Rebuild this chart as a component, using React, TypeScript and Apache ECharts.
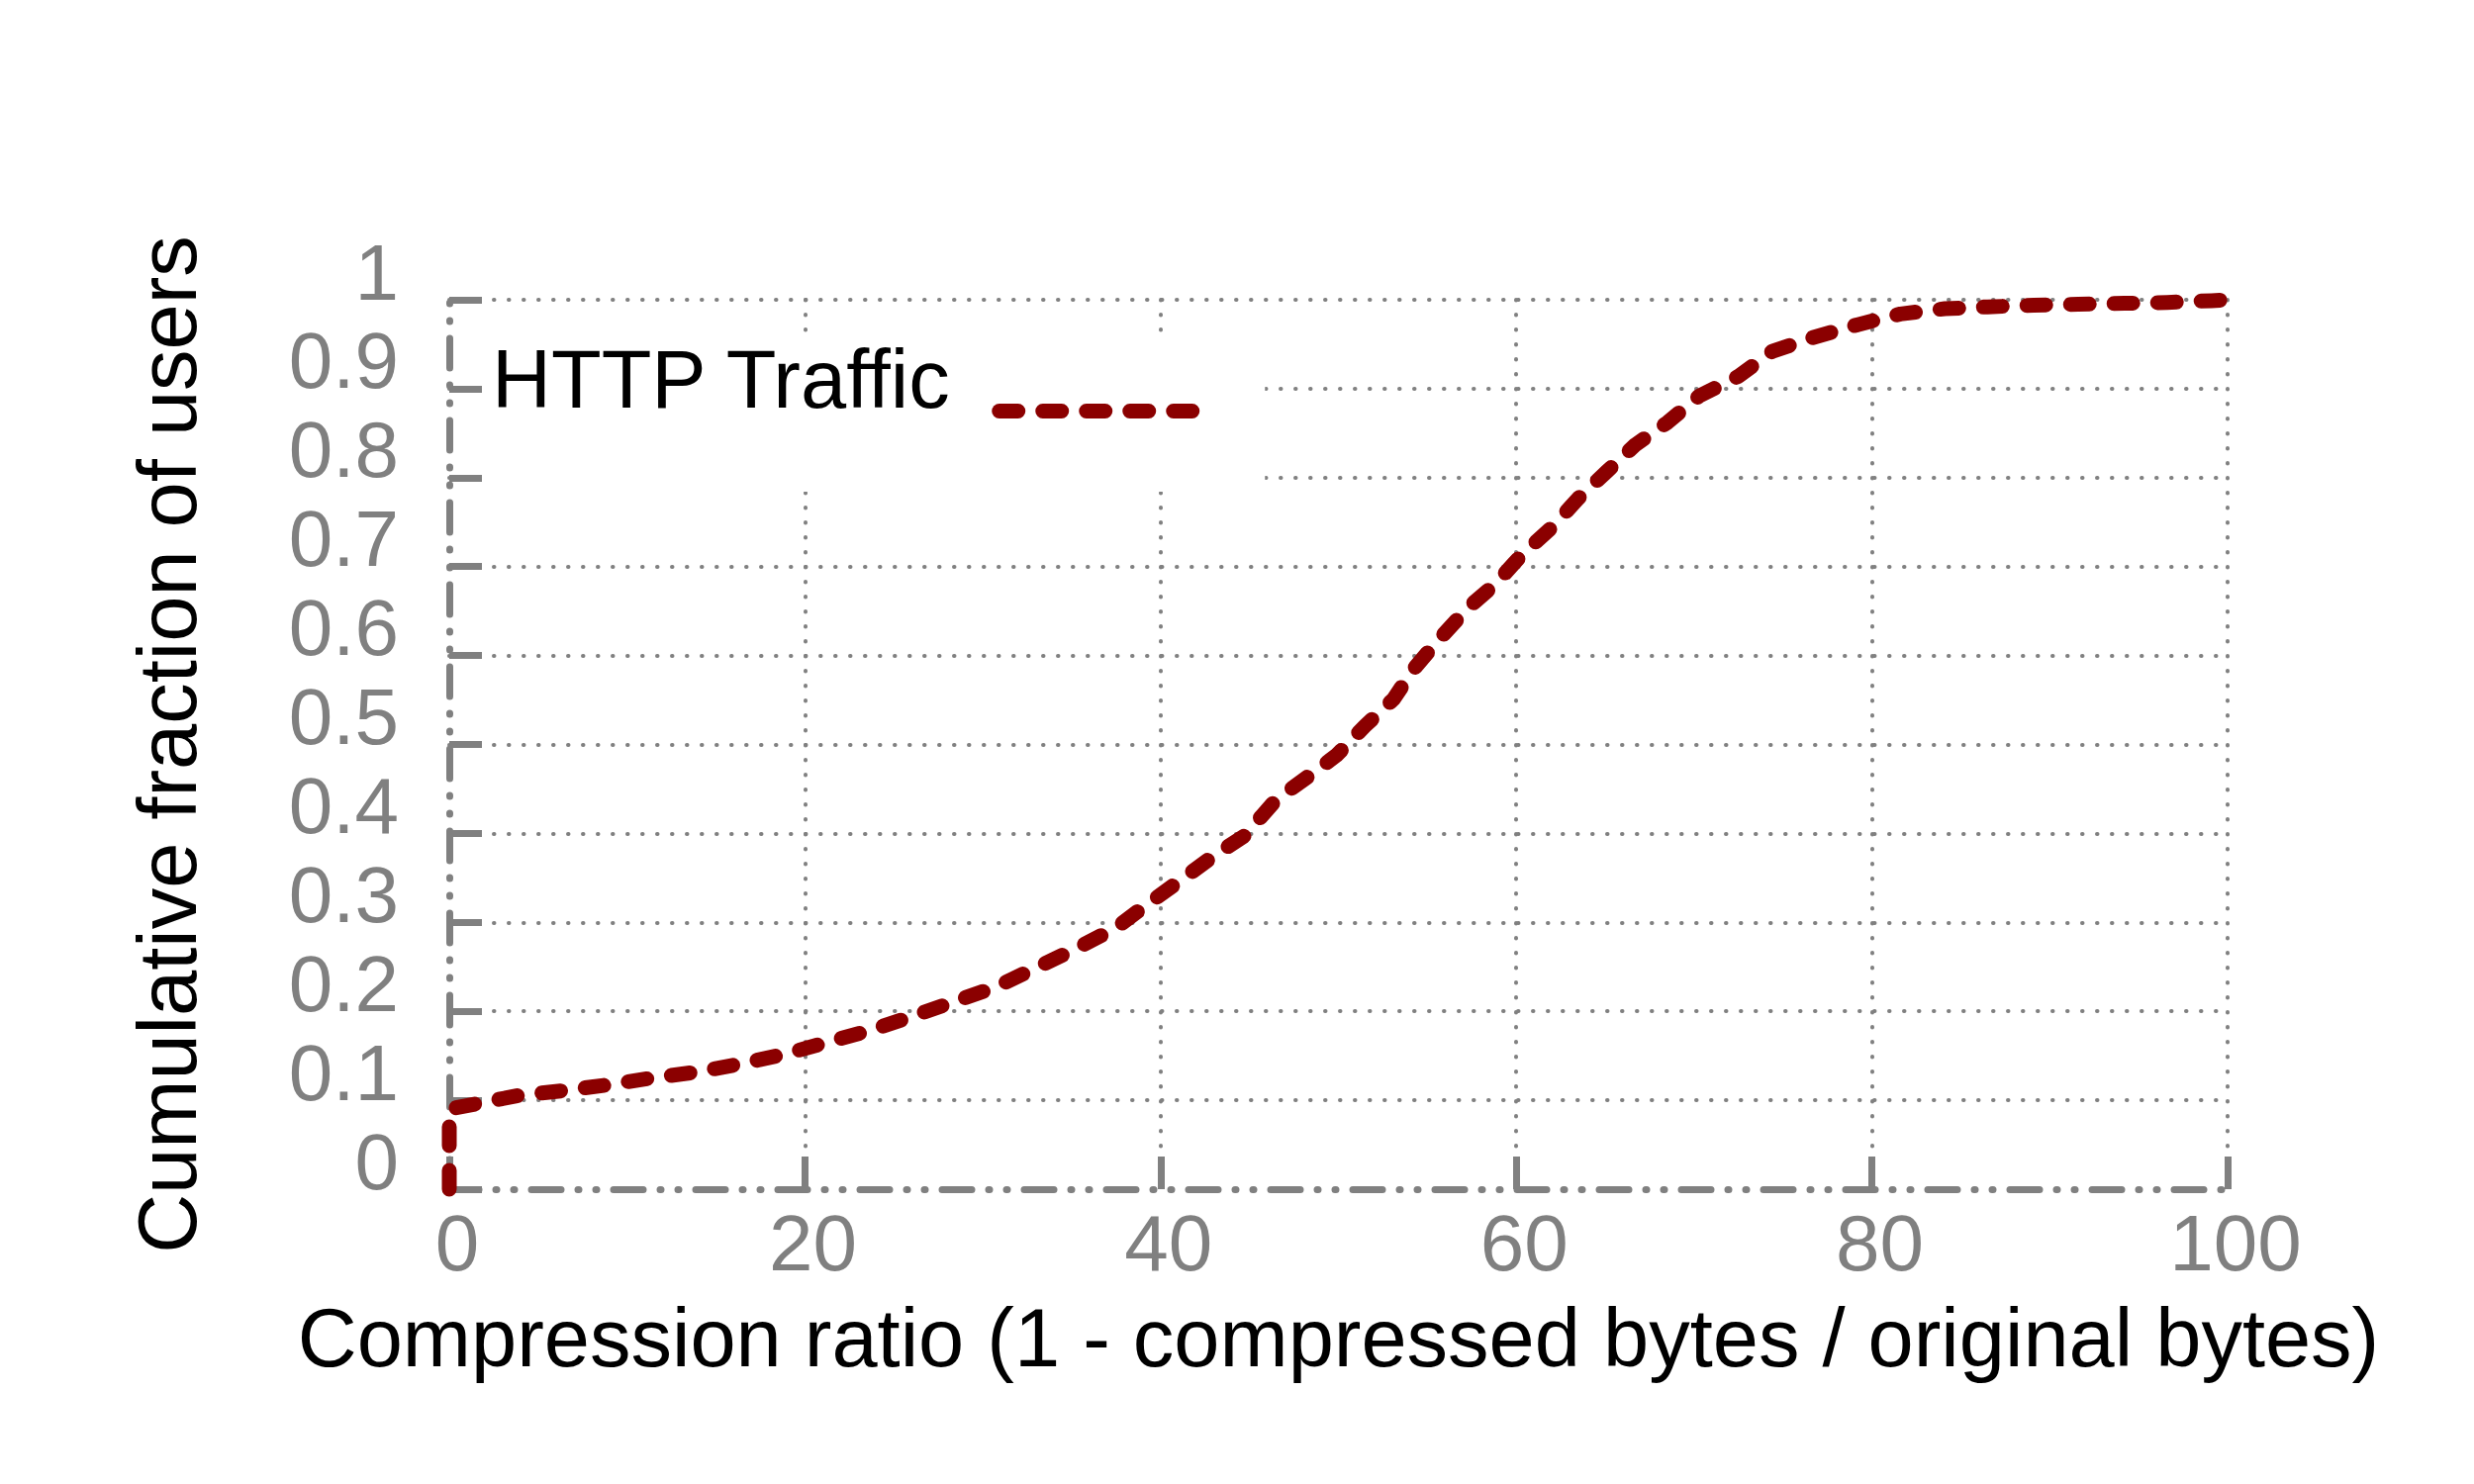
import React, { useEffect, useRef } from 'react';
import * as echarts from 'echarts';

// Compression ratio (%)
const ratioValues = [
  0, 0, 3.8, 6.5, 8.8, 11.4, 14.0, 16.4, 18.9, 21.2, 23.6, 26.0, 28.4, 30.7,
  33.0, 35.3, 37.5, 39.3, 41.1, 43.0, 44.7, 46.5, 48.3, 49.9, 51.5, 53.1,
  54.2, 55.6, 57.3, 58.8, 60.3, 62.0, 63.5, 65.1, 66.7, 68.5, 70.3, 72.5,
  74.4, 76.6, 79.2, 81.6, 84.1, 86.5, 89.1, 91.6, 94.2, 96.6, 99.1, 100,
];
// Cumulative fraction of users at each ratio
const cdfValues = [
  0, 0.09, 0.105, 0.111, 0.117, 0.125, 0.132, 0.141, 0.152, 0.165, 0.178,
  0.194, 0.211, 0.227, 0.249, 0.271, 0.294, 0.321, 0.347, 0.375, 0.397,
  0.438, 0.464, 0.488, 0.521, 0.551, 0.584, 0.617, 0.654, 0.68, 0.713, 0.744,
  0.777, 0.807, 0.837, 0.862, 0.892, 0.914, 0.942, 0.957, 0.972, 0.984, 0.99,
  0.992, 0.994, 0.995, 0.996, 0.997, 0.999, 1.0,
];

const seriesName = 'HTTP Traffic';
const xTitle = 'Compression ratio (1 - compressed bytes / original bytes)';
const yTitle = 'Cumulative fraction of users';

export default function App() {
  const ref = useRef<HTMLDivElement>(null);

  useEffect(() => {
    if (!ref.current) return;
    const chart = echarts.init(ref.current, null, { renderer: 'svg' });
    const font = "'Liberation Sans', Arial, Helvetica, sans-serif";
    const gray = '#808080';
    const red = '#8b0000';
    const axisDash = [30, 17, 1, 17, 1, 17];
    const dotted = { color: gray, width: 4, type: [0.5, 14.5], cap: 'round' };
    const curveDash = [19, 25];

    chart.setOption({
      animation: false,
      backgroundColor: '#ffffff',
      grid: { left: 454, top: 303, width: 1797, height: 899, containLabel: false },
      legend: {
        show: true,
        left: 490,
        top: 337,
        orient: 'horizontal',
        align: 'right',
        padding: [5, 66, 8, 4],
        backgroundColor: '#ffffff',
        itemWidth: 195,
        itemHeight: 20,
        itemStyle: { color: 'rgba(0,0,0,0)', borderWidth: 0, opacity: 0 },
        lineStyle: { color: red, width: 15, type: curveDash, cap: 'round', join: 'round', opacity: 1 },
        formatter: '{t|{name}}',
        textStyle: {
          fontFamily: font,
          fontSize: 83,
          color: '#000000',
          rich: {
            t: {
              fontFamily: font,
              fontSize: 83,
              lineHeight: 83,
              color: '#000000',
              padding: [0, 45, 64, 0],
            },
          },
        },
        data: [seriesName],
      },
      xAxis: {
        type: 'value',
        min: 0,
        max: 100,
        interval: 20,
        name: xTitle,
        nameLocation: 'middle',
        nameGap: 109,
        nameTextStyle: { fontFamily: font, fontSize: 83, color: '#000000' },
        axisLine: { show: true, lineStyle: { color: gray, width: 7, type: axisDash, cap: 'round' } },
        axisTick: { show: true, inside: true, length: 33, lineStyle: { color: gray, width: 7 } },
        axisLabel: { fontFamily: font, fontSize: 80, color: gray, margin: 14, padding: [0, 0, 0, 16] },
        splitLine: { show: true, showMinLine: false, lineStyle: dotted },
      },
      yAxis: {
        type: 'value',
        min: 0,
        max: 1,
        interval: 0.1,
        name: yTitle,
        nameLocation: 'middle',
        nameGap: 243,
        nameTextStyle: { fontFamily: font, fontSize: 83, color: '#000000' },
        axisLine: { show: true, lineStyle: { color: gray, width: 7, type: axisDash, cap: 'round' } },
        axisTick: { show: true, inside: true, length: 33, lineStyle: { color: gray, width: 7 } },
        axisLabel: {
          fontFamily: font,
          fontSize: 80,
          color: gray,
          margin: 51,
          verticalAlign: 'bottom',
          lineHeight: 56,
        },
        splitLine: { show: true, showMinLine: false, lineStyle: dotted },
      },
      series: [
        {
          type: 'line',
          name: seriesName,
          data: ratioValues.map((x, i) => [x, cdfValues[i]]),
          symbol: 'none',
          showSymbol: false,
          clip: false,
          z: 3,
          itemStyle: { color: red },
          lineStyle: { color: red, width: 15, type: curveDash, cap: 'round', join: 'round' },
        },
      ],
    });

    return () => {
      chart.dispose();
    };
  }, []);

  return (
    <div
      ref={ref}
      style={{ position: 'fixed', left: 0, top: 0, width: 2500, height: 1500, background: '#ffffff' }}
    />
  );
}
